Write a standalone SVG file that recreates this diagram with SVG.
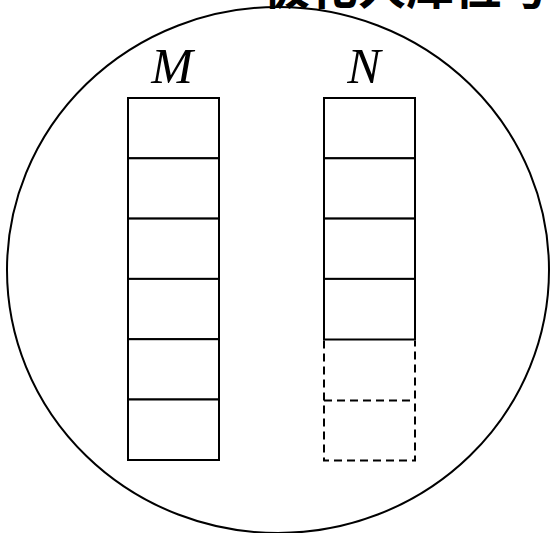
<svg xmlns="http://www.w3.org/2000/svg" width="550" height="533" viewBox="0 0 550 533">
<style>
.title{font-family:"Noto Sans CJK SC","Noto Sans",sans-serif;font-weight:bold;font-size:48px;fill:#000}
.lbl{font-family:"Liberation Serif","Times New Roman",serif;font-style:italic;font-size:50px;fill:#000}
.cell{fill:#fff;stroke:#000;stroke-width:2}
.dash{fill:none;stroke:#000;stroke-width:2;stroke-dasharray:8 5}
</style>
<rect width="550" height="533" fill="#fff"/>
<text class="title" x="262" y="4">极化人库位号</text>
<ellipse id="set" cx="278" cy="270" rx="271" ry="263" fill="none" stroke="#000" stroke-width="2"/>
<g id="M">
<text class="lbl" x="172" y="83" text-anchor="middle">M</text>
<rect class="cell" x="128" y="98" width="91" height="60.3"/>
<rect class="cell" x="128" y="158.3" width="91" height="60.3"/>
<rect class="cell" x="128" y="218.6" width="91" height="60.3"/>
<rect class="cell" x="128" y="278.9" width="91" height="60.3"/>
<rect class="cell" x="128" y="339.2" width="91" height="60.3"/>
<rect class="cell" x="128" y="399.5" width="91" height="60.5"/>
</g>
<g id="N">
<text class="lbl" x="364" y="83" text-anchor="middle">N</text>
<rect class="cell" x="324" y="98" width="91" height="60.3"/>
<rect class="cell" x="324" y="158.3" width="91" height="60.3"/>
<rect class="cell" x="324" y="218.6" width="91" height="60.3"/>
<rect class="cell" x="324" y="278.9" width="91" height="60.6"/>
<path class="dash" d="M324 340.5 V460.5 H415 V340.5 M324 400.5 H415"/>
</g>
</svg>
